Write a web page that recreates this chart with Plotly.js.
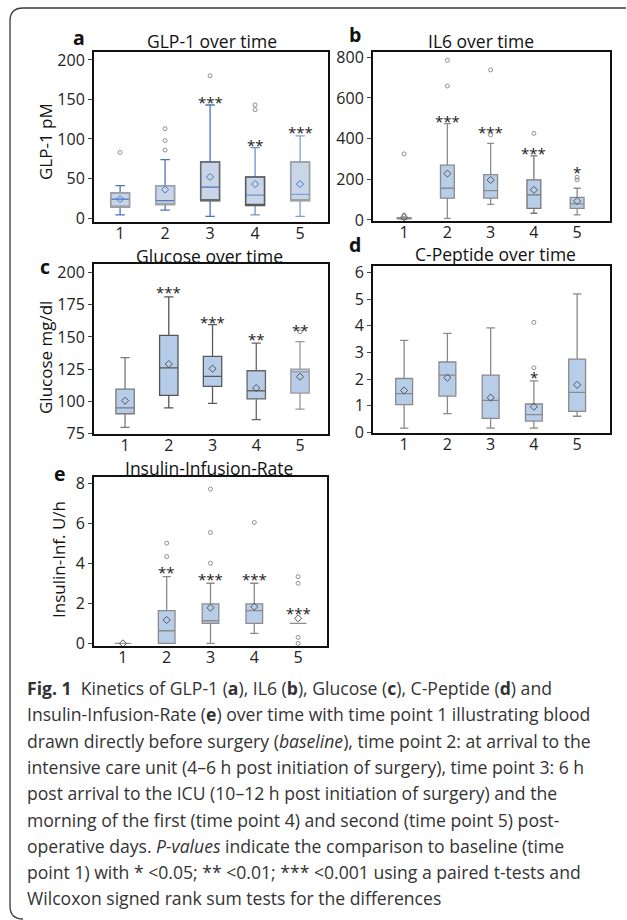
<!DOCTYPE html>
<html>
<head>
<meta charset="utf-8">
<script src="https://cdn.plot.ly/plotly-3.0.1.min.js"></script>
<style>html,body{margin:0;padding:0;background:#fff;}#chart{width:627px;height:920px;}</style>
</head>
<body>
<div id="chart"></div>
<script>
// ---------- DATA ----------
const timePoints = [1, 2, 3, 4, 5];
const tickLabels = ['1', '2', '3', '4', '5'];

// a: GLP-1 (pM)
const glpLower  = [4, 10, 2, 4, 2];
const glpQ1     = [14, 17, 22, 16, 22];
const glpMedian = [24, 22, 39, 29, 30];
const glpQ3     = [32, 41, 71, 52, 71];
const glpUpper  = [41, 74, 143, 89, 104];
const glpMean   = [24, 36, 52, 43, 43];
const glpOutX   = [1, 2, 2, 2, 3, 4, 4];
const glpOutY   = [83, 86, 98, 113, 180, 137, 143];
const glpStars  = ['', '', '***', '**', '***'];
const glpStarY  = [null, null, 150, 96, 112];

// b: IL6
const il6Lower  = [3, 8, 77, 33, 25];
const il6Q1     = [5, 107, 107, 57, 57];
const il6Median = [8, 156, 144, 123, 79];
const il6Q3     = [11, 270, 223, 197, 111];
const il6Upper  = [13, 474, 377, 315, 156];
const il6Mean   = [13, 228, 197, 148, 93];
const il6OutX   = [1, 1, 2, 2, 3, 3, 4, 5, 5];
const il6OutY   = [25, 325, 659, 785, 418, 738, 426, 197, 210];
const il6Stars  = ['', '***', '***', '***', '*'];
const il6StarY  = [null, 500, 446, 344, 249];

// c: Glucose (mg/dl)
const gluLower  = [80, 95, 98.5, 86, 94];
const gluQ1     = [90.5, 104.7, 111.7, 102, 106.5];
const gluMedian = [95, 126, 119.4, 108.3, 123];
const gluQ3     = [109.6, 151.2, 134.9, 123.8, 125.1];
const gluUpper  = [134, 181, 159.5, 145.2, 146.3];
const gluMean   = [100.6, 129, 125.4, 110.4, 119.2];
const gluOutX   = [5];
const gluOutY   = [154];
const gluStars  = ['', '***', '***', '**', '**'];
const gluStarY  = [null, 187, 164, 150.4, 157.4];

// d: C-Peptide
const cpLower   = [0.15, 0.7, 0.15, 0.15, 0.6];
const cpQ1      = [1.04, 1.36, 0.52, 0.42, 0.78];
const cpMedian  = [1.45, 2.15, 1.2, 0.66, 1.5];
const cpQ3      = [2.02, 2.64, 2.15, 1.06, 2.75];
const cpUpper   = [3.45, 3.72, 3.92, 1.93, 5.2];
const cpMean    = [1.57, 2.05, 1.3, 0.96, 1.78];
const cpOutX    = [4, 4];
const cpOutY    = [2.42, 4.13];
const cpStars   = ['', '', '', '*', ''];
const cpStarY   = [null, null, null, 2.2, null];

// e: Insulin-Infusion-Rate (U/h)
const insLower  = [0, 0, 0, 0.5, 1.0];
const insQ1     = [0, 0, 1.0, 1.0, 1.0];
const insMedian = [0, 0.63, 1.13, 1.63, 1.0];
const insQ3     = [0, 1.63, 1.97, 1.97, 1.0];
const insUpper  = [0, 3.33, 3.0, 3.0, 1.0];
const insMean   = [0, 1.17, 1.78, 1.83, 1.25];
const insOutX   = [2, 2, 3, 3, 3, 4, 5, 5, 5, 5];
const insOutY   = [4.33, 5.0, 4.0, 5.53, 7.7, 6.03, 3.33, 3.0, 0.3, 0.0];
const insStars  = ['', '**', '***', '***', '***'];
const insStarY  = [null, 3.7, 3.37, 3.37, 1.67];

const captionLines = [
  '<b>Fig. 1</b>\u00a0\u00a0Kinetics of GLP-1 (<b>a</b>), IL6 (<b>b</b>), Glucose (<b>c</b>), C-Peptide (<b>d</b>) and',
  'Insulin-Infusion-Rate (<b>e</b>) over time with time point 1 illustrating blood',
  'drawn directly before surgery (<i>baseline</i>), time point 2: at arrival to the',
  'intensive care unit (4\u20136 h post initiation of surgery), time point 3: 6 h',
  'post arrival to the ICU (10\u201312 h post initiation of surgery) and the',
  'morning of the first (time point 4) and second (time point 5) post-',
  'operative days. <i>P-values</i> indicate the comparison to baseline (time',
  'point 1) with * &lt;0.05; ** &lt;0.01; *** &lt;0.001 using a paired t-tests and',
  'Wilcoxon signed rank sum tests for the differences'
];

// ---------- BUILD ----------
const W = 627, H = 920;
const px = v => v / W;
const py = v => 1 - v / H;

const panels = [
  {xa:'x',  ya:'y',  lower:glpLower, q1:glpQ1, med:glpMedian, q3:glpQ3, upper:glpUpper, mean:glpMean,
   outX:glpOutX, outY:glpOutY, stars:glpStars, starY:glpStarY, w:0.42,
   fill:'#c9d6e8', line:['#4a73c2','#4a73c2','#4a73c2','#6f93cf','#7f9fd6'],
   frame:['#a3a3a3','#a3a3a3','#6a6a6a','#5a5a5a','#a0a0a0'], meanColor:'#4a73c2'},
  {xa:'x2', ya:'y2', lower:il6Lower, q1:il6Q1, med:il6Median, q3:il6Q3, upper:il6Upper, mean:il6Mean,
   outX:il6OutX, outY:il6OutY, stars:il6Stars, starY:il6StarY, w:0.32,
   fill:'#b8cde8', line:['#8c8c8c','#8c8c8c','#8c8c8c','#777777','#8c8c8c'], meanColor:'#5a5a5a'},
  {xa:'x3', ya:'y3', lower:gluLower, q1:gluQ1, med:gluMedian, q3:gluQ3, upper:gluUpper, mean:gluMean,
   outX:gluOutX, outY:gluOutY, stars:gluStars, starY:gluStarY, w:0.42,
   fill:'#b7cce8', line:['#7a7a7a','#555555','#5a5a5a','#666666','#9a9a9a'], meanColor:'#555555'},
  {xa:'x4', ya:'y4', lower:cpLower, q1:cpQ1, med:cpMedian, q3:cpQ3, upper:cpUpper, mean:cpMean,
   outX:cpOutX, outY:cpOutY, stars:cpStars, starY:cpStarY, w:0.39,
   fill:'#b8cde8', line:['#8a8a8a','#8a8a8a','#8a8a8a','#8a8a8a','#8a8a8a'], meanColor:'#555555'},
  {xa:'x5', ya:'y5', lower:insLower, q1:insQ1, med:insMedian, q3:insQ3, upper:insUpper, mean:insMean,
   outX:insOutX, outY:insOutY, stars:insStars, starY:insStarY, w:0.38,
   fill:'#b8cde8', line:['#9a9a9a','#8c8c8c','#8c8c8c','#8c8c8c','#8c8c8c'], meanColor:'#555555'}
];

const traces = [];
const annotations = [];

panels.forEach(p => {
  for (let i = 0; i < timePoints.length; i++) {
    traces.push({
      type:'box', orientation:'v', xaxis:p.xa, yaxis:p.ya,
      x:[timePoints[i]], q1:[p.q1[i]], median:[p.med[i]], q3:[p.q3[i]],
      lowerfence:[p.lower[i]], upperfence:[p.upper[i]],
      width:p.w, whiskerwidth:0.5, fillcolor:p.fill,
      line:{color:p.line[i], width:1.3}, boxpoints:false,
      hoverinfo:'skip', showlegend:false
    });
    if (p.frame) {
      traces.push({
        type:'box', orientation:'v', xaxis:p.xa, yaxis:p.ya,
        x:[timePoints[i]], q1:[p.q1[i]], median:[p.q1[i]], q3:[p.q3[i]],
        lowerfence:[p.q1[i]], upperfence:[p.q3[i]],
        width:p.w, whiskerwidth:0, fillcolor:'rgba(0,0,0,0)',
        line:{color:p.frame[i], width:1.5}, boxpoints:false,
        hoverinfo:'skip', showlegend:false
      });
    }
    if (p.stars[i]) {
      annotations.push({
        xref:p.xa, yref:p.ya, x:timePoints[i], y:p.starY[i], text:p.stars[i],
        showarrow:false, yanchor:'middle', yshift:-3,
        font:{family:'Open Sans', size:15, color:'#1a1a1a'}
      });
    }
  }
  traces.push({
    type:'scatter', mode:'markers', xaxis:p.xa, yaxis:p.ya, x:p.outX, y:p.outY,
    marker:{symbol:'circle-open', size:4, color:'#8f8f8f', line:{width:1, color:'#8f8f8f'}},
    hoverinfo:'skip', showlegend:false
  });
  traces.push({
    type:'scatter', mode:'markers', xaxis:p.xa, yaxis:p.ya, x:timePoints, y:p.mean,
    marker:{symbol:'diamond-open', size:5.5, color:p.meanColor, line:{width:1, color:p.meanColor}},
    hoverinfo:'skip', showlegend:false
  });
});

const baseAxis = {
  showline:true, mirror:true, linecolor:'#111', linewidth:2,
  showgrid:false, zeroline:false, fixedrange:true,
  tickfont:{family:'Open Sans', size:16, color:'#222'}
};
function xAxis(domain, range, anchor) {
  return Object.assign({}, baseAxis, {domain, range, anchor,
    tickmode:'array', tickvals:timePoints, ticktext:tickLabels, ticks:'', ticklabelstandoff:-4});
}
function yAxis(domain, range, anchor, vals) {
  return Object.assign({}, baseAxis, {domain, range, anchor,
    tickmode:'array', tickvals:vals, ticks:'outside', ticklen:4, tickcolor:'#444', tickwidth:1});
}

const titleFont = {family:'Open Sans', size:17.5, color:'#111'};
const letterFont = {family:'Open Sans', size:19.5, color:'#111'};
function paperText(text, x, y, font, extra) {
  return Object.assign({xref:'paper', yref:'paper', x:px(x), y:py(y), text, showarrow:false,
    xanchor:'center', yanchor:'middle', font}, extra || {});
}

annotations.push(paperText('GLP-1 over time', 212, 41, titleFont));
annotations.push(paperText('IL6 over time', 481, 41, titleFont));
annotations.push(paperText('Glucose over time', 209, 256, titleFont));
annotations.push(paperText('C-Peptide over time', 495, 254, titleFont));
annotations.push(paperText('Insulin-Infusion-Rate', 209, 468, titleFont));

annotations.push(paperText('<b>a</b>', 79, 38, letterFont));
annotations.push(paperText('<b>b</b>', 355, 34, letterFont));
annotations.push(paperText('<b>c</b>', 45, 267, letterFont));
annotations.push(paperText('<b>d</b>', 355, 244, letterFont));
annotations.push(paperText('<b>e</b>', 60, 473, letterFont));

const ytFont = {family:'Open Sans', size:17, color:'#111'};
annotations.push(paperText('GLP-1 pM', 45, 142, ytFont, {textangle:-90}));
annotations.push(paperText('Glucose mg/dl', 45, 358, ytFont, {textangle:-90}));
annotations.push(paperText('Insulin-Inf. U/h', 58, 560, ytFont, {textangle:-90}));

captionLines.forEach((t, i) => {
  annotations.push(paperText(t, 25, 688 + i * 26.3,
    {family:'Open Sans', size:17.6, color:'#333'}, {xanchor:'left'}));
});

const layout = {
  width:W, height:H, margin:{l:0, r:0, t:0, b:0},
  paper_bgcolor:'#fff', plot_bgcolor:'#fff', boxmode:'overlay', showlegend:false,
  font:{family:'Open Sans', color:'#222'},
  xaxis:  xAxis([px(94), px(328)], [0.42, 5.62], 'y'),
  yaxis:  yAxis([py(222), py(52)], [-5, 210], 'x', [0, 50, 100, 150, 200]),
  xaxis2: xAxis([px(373), px(610)], [0.28, 5.76], 'y2'),
  yaxis2: yAxis([py(221), py(52)], [-5, 826], 'x2', [0, 200, 400, 600, 800]),
  xaxis3: xAxis([px(94), px(328)], [0.29, 5.64], 'y3'),
  yaxis3: yAxis([py(434), py(264)], [74.8, 206.5], 'x3', [75, 100, 125, 150, 175, 200]),
  xaxis4: xAxis([px(373), px(610)], [0.28, 5.76], 'y4'),
  yaxis4: yAxis([py(433), py(266)], [-0.03, 6.25], 'x4', [0, 1, 2, 3, 4, 5, 6]),
  xaxis5: xAxis([px(94), px(327)], [0.34, 5.66], 'y5'),
  yaxis5: yAxis([py(646), py(477)], [-0.13, 8.3], 'x5', [0, 2, 4, 6, 8]),
  annotations,
  shapes:[{
    type:'path', xref:'paper', yref:'paper',
    path:`M ${px(626)},${py(8)} L ${px(23)},${py(8)} Q ${px(10)},${py(8)} ${px(10)},${py(21)} L ${px(10)},${py(906)} Q ${px(10)},${py(919)} ${px(23)},${py(919)}`,
    line:{color:'#3a3a3a', width:1.3}
  }]
};

Plotly.newPlot('chart', traces, layout, {staticPlot:true, displayModeBar:false});
</script>
</body>
</html>
